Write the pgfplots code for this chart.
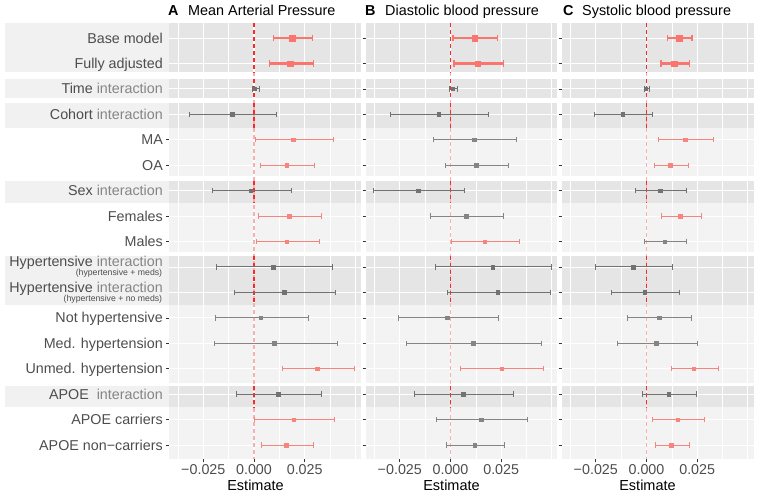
\documentclass[border=0pt]{standalone}
\usepackage{fontspec}
\setmainfont{Liberation Sans}
\usepackage{pgfplots}
\usepackage{pgfplotstable}
\pgfplotsset{compat=1.18}

\definecolor{bgd}{HTML}{E5E5E5}
\definecolor{bglt}{HTML}{F3F3F3}
\definecolor{band}{HTML}{F1F1F1}
\definecolor{rd}{HTML}{F8766D}
\definecolor{lrd}{HTML}{F6857E}
\definecolor{gy}{HTML}{727272}
\definecolor{lgy}{HTML}{858585}
\definecolor{txt}{HTML}{4D4D4D}
\definecolor{itx}{HTML}{858585}
\definecolor{zred}{HTML}{F42C2C}
\definecolor{zpink}{HTML}{F6B0B0}
\definecolor{tk}{HTML}{333333}

\def\xmn{-0.04191}
\def\xmx{0.05276}
\def\ymn{0.4104}
\def\ymx{17.549}
\def\xlab{-0.04487}
\def\xsub{-0.04521}
\def\xband{-0.12278}

% ---------- Panel A ----------
\pgfplotstableread{
y est lo hi
1 0.0189 0.0095 0.0290
2 0.0179 0.0076 0.0293
}\Abig
\pgfplotstableread{
y est lo hi
3 0.0002 -0.0008 0.0026
4 -0.0107 -0.0319 0.0109
7 -0.0016 -0.0206 0.0186
10 0.0095 -0.0184 0.0385
11 0.0148 -0.0097 0.0401
15 0.0120 -0.0087 0.0332
}\Agy
\pgfplotstableread{
y est lo hi
5 0.0194 0.0007 0.0392
6 0.0161 0.0030 0.0296
8 0.0173 0.0021 0.0331
9 0.0161 0.0013 0.0321
14 0.0313 0.0141 0.0494
16 0.0196 0.0003 0.0396
17 0.0160 0.0035 0.0293
}\Alr
\pgfplotstableread{
y est lo hi
12 0.0033 -0.0192 0.0270
13 0.0100 -0.0197 0.0411
}\Alg
% ---------- Panel B ----------
\pgfplotstableread{
y est lo hi
1 0.0120 0.0012 0.0233
2 0.0135 0.0017 0.0262
}\Bbig
\pgfplotstableread{
y est lo hi
3 0.0010 -0.0005 0.0033
4 -0.0058 -0.0297 0.0187
7 -0.0158 -0.0380 0.0070
10 0.0208 -0.0073 0.0498
11 0.0233 -0.0017 0.0492
15 0.0063 -0.0178 0.0313
}\Bgy
\pgfplotstableread{
y est lo hi
9 0.0168 0.0003 0.0338
14 0.0252 0.0050 0.0458
}\Blr
\pgfplotstableread{
y est lo hi
5 0.0117 -0.0085 0.0325
6 0.0127 -0.0023 0.0285
8 0.0077 -0.0100 0.0262
12 -0.0017 -0.0257 0.0235
13 0.0112 -0.0218 0.0447
16 0.0152 -0.0067 0.0380
17 0.0120 -0.0018 0.0267
}\Blg
% ---------- Panel C ----------
\pgfplotstableread{
y est lo hi
1 0.0162 0.0105 0.0225
2 0.0137 0.0072 0.0213
}\Cbig
\pgfplotstableread{
y est lo hi
3 -0.0003 -0.0012 0.0017
4 -0.0118 -0.0255 0.0028
7 0.0068 -0.0052 0.0197
10 -0.0067 -0.0252 0.0128
11 -0.0008 -0.0173 0.0162
15 0.0110 -0.0018 0.0248
}\Cgy
\pgfplotstableread{
y est lo hi
5 0.0190 0.0060 0.0330
6 0.0117 0.0037 0.0207
8 0.0167 0.0072 0.0270
14 0.0233 0.0125 0.0353
16 0.0153 0.0028 0.0287
17 0.0123 0.0042 0.0213
}\Clr
\pgfplotstableread{
y est lo hi
9 0.0090 -0.0008 0.0197
12 0.0062 -0.0093 0.0222
13 0.0048 -0.0143 0.0250
}\Clg

\newcommand\fs{\fontsize{14.3}{16}\selectfont}

\pgfplotsset{
  panel/.style={
    set layers, clip=false,
    scale only axis, width=192pt, height=436pt,
    xmin=\xmn, xmax=\xmx, ymin=\ymn, ymax=\ymx, y dir=reverse,
    axis line style={draw=none},
    xtick={-0.025,0,0.025}, xticklabels={−0.025,0.000,0.025},
    scaled x ticks=false,
    ytick={1,...,17}, yticklabels={},
    tick align=outside, xtick pos=bottom, ytick pos=left,
    major tick length=3pt,
    tick style={color=tk, line width=0.6pt},
    xticklabel style={font=\fs, text=txt, inner sep=0pt, anchor=north, yshift=-2pt},
    anchor=south west,
  },
  ebase/.style={only marks, mark=square*,
    error bars/x dir=both, error bars/x explicit, error bars/error mark=|},
  bigpt/.style={ebase, color=rd, mark size=2.7pt,
    error bars/error bar style={line width=2.3pt},
    error bars/error mark options={line width=1.3pt, mark size=3.4pt}},
  smpt/.style={ebase, color=#1, mark size=1.8pt,
    error bars/error bar style={line width=1.05pt},
    error bars/error mark options={line width=1pt, mark size=2.7pt}},
}
\tikzset{
  lab/.style={anchor=base east, inner sep=0pt, yshift=-5pt, font=\fs, text=txt},
  hlab/.style={anchor=base east, inner sep=0pt, yshift=0.3pt, font=\fs, text=txt},
  slab/.style={anchor=base east, inner sep=0pt, yshift=-8.8pt, font=\fontsize{8.7}{9}\selectfont, text=txt},
  onbg/.style={on layer=axis background},
}

\newcommand\eb[2]{\addplot[#1] table[x=est,y=y,x error plus expr=\thisrow{hi}-\thisrow{est},x error minus expr=\thisrow{est}-\thisrow{lo}]{#2};}

\newcommand\vg[2]{\draw[onbg,white,line width=#2] (axis cs:#1,\ymn) -- (axis cs:#1,\ymx);}
\newcommand\hg[1]{\draw[onbg,white,line width=0.9pt] (axis cs:\xmn,#1) -- (axis cs:\xmx,#1);}
\newcommand\gap[2]{\fill[onbg,white] (axis cs:\xmn,#1) rectangle (axis cs:\xmx,#2);}
\newcommand\bandr[2]{\fill[onbg,band] (axis cs:\xband,#1) rectangle (axis cs:\xmn,#2);}

\newcommand\panelbg{%
    \fill[onbg,bgd] (axis cs:\xmn,\ymn) rectangle (axis cs:\xmx,\ymx);
    \fill[onbg,bglt] (axis cs:\xmn,4.52) rectangle (axis cs:\xmx,6.5);
    \fill[onbg,bglt] (axis cs:\xmn,7.5) rectangle (axis cs:\xmx,9.5);
    \fill[onbg,bglt] (axis cs:\xmn,11.5) rectangle (axis cs:\xmx,14.6);
    \fill[onbg,bglt] (axis cs:\xmn,15.52) rectangle (axis cs:\xmx,\ymx);
    \vg{-0.0375}{0.5pt}\vg{-0.0125}{0.5pt}\vg{0.0125}{0.5pt}\vg{0.0375}{0.5pt}
    \vg{-0.025}{1.1pt}\vg{0}{1.1pt}\vg{0.025}{1.1pt}\vg{0.05}{1.1pt}
    \hg{1}\hg{2}\hg{3}\hg{4}\hg{5}\hg{6}\hg{7}\hg{8}\hg{9}\hg{10}\hg{11}\hg{12}\hg{13}\hg{14}\hg{15}\hg{16}\hg{17}
    \gap{2.34}{2.62}\gap{3.36}{3.54}\gap{6.42}{6.62}\gap{9.42}{9.58}\gap{14.56}{14.66}
}

\newcommand\zeroline{%
  \draw[zpink, line width=1.2pt, dash pattern=on 4pt off 3pt] (axis cs:0,\ymn) -- (axis cs:0,\ymx);
  \draw[zred, line width=1.2pt, dash pattern=on 4pt off 3pt] (axis cs:0,\ymn) -- (axis cs:0,2.34);
  \draw[zred, line width=1.2pt, dash pattern=on 4pt off 3pt] (axis cs:0,2.62) -- (axis cs:0,3.36);
  \draw[zred, line width=1.2pt, dash pattern=on 4pt off 3pt] (axis cs:0,3.54) -- (axis cs:0,4.52);
  \draw[zred, line width=1.2pt, dash pattern=on 4pt off 3pt] (axis cs:0,6.62) -- (axis cs:0,7.5);
  \draw[zred, line width=1.2pt, dash pattern=on 4pt off 3pt] (axis cs:0,9.58) -- (axis cs:0,11.5);
  \draw[zred, line width=1.2pt, dash pattern=on 4pt off 3pt] (axis cs:0,14.66) -- (axis cs:0,15.52);
}

\begin{document}
\begin{tikzpicture}

% ---------------- A ----------------
\begin{axis}[panel, at={(169pt,-459pt)}]
  \panelbg
  \bandr{\ymn}{2.34}\bandr{2.62}{3.36}\bandr{3.54}{4.52}\bandr{6.62}{7.5}\bandr{9.58}{11.5}\bandr{14.66}{15.52}
  \node[lab] at (axis cs:\xlab,1) {Base model};
  \node[lab] at (axis cs:\xlab,2) {Fully adjusted};
  \node[lab] at (axis cs:\xlab,3) {Time \textcolor{itx}{interaction}};
  \node[lab] at (axis cs:\xlab,4) {Cohort \textcolor{itx}{interaction}};
  \node[lab] at (axis cs:\xlab,5) {MA};
  \node[lab] at (axis cs:\xlab,6) {OA};
  \node[lab] at (axis cs:\xlab,7) {Sex \textcolor{itx}{interaction}};
  \node[lab] at (axis cs:\xlab,8) {Females};
  \node[lab] at (axis cs:\xlab,9) {Males};
  \node[hlab] at (axis cs:\xlab,10) {Hypertensive \textcolor{itx}{interaction}};
  \node[slab] at (axis cs:\xsub,10) {(hypertensive + meds)};
  \node[hlab] at (axis cs:\xlab,11) {Hypertensive \textcolor{itx}{interaction}};
  \node[slab] at (axis cs:\xsub,11) {(hypertensive + no meds)};
  \node[lab] at (axis cs:\xlab,12) {Not hypertensive};
  \node[lab] at (axis cs:\xlab,13) {Med. hypertension};
  \node[lab] at (axis cs:\xlab,14) {Unmed. hypertension};
  \node[lab] at (axis cs:\xlab,15) {APOE\ \ \textcolor{itx}{interaction}};
  \node[lab] at (axis cs:\xlab,16) {APOE carriers};
  \node[lab] at (axis cs:\xlab,17) {APOE non−carriers};
  \zeroline
  \eb{bigpt}{\Abig}
  \eb{smpt=gy}{\Agy}
  \eb{smpt=lrd}{\Alr}
  \eb{smpt=lgy}{\Alg}
\end{axis}

% ---------------- B ----------------
\begin{axis}[panel, at={(365.5pt,-459pt)}]
  \panelbg
  \zeroline
  \eb{bigpt}{\Bbig}
  \eb{smpt=gy}{\Bgy}
  \eb{smpt=lrd}{\Blr}
  \eb{smpt=lgy}{\Blg}
\end{axis}

% ---------------- C ----------------
\begin{axis}[panel, at={(561.5pt,-459pt)}]
  \panelbg
  \zeroline
  \eb{bigpt}{\Cbig}
  \eb{smpt=gy}{\Cgy}
  \eb{smpt=lrd}{\Clr}
  \eb{smpt=lgy}{\Clg}
\end{axis}

% titles
\begin{scope}[every node/.style={inner sep=0pt, anchor=base west, font=\fontsize{14.4}{16}\selectfont}]
  \node at (168pt,-15.5pt) {\bfseries A};
  \node at (188pt,-15.5pt) {Mean Arterial Pressure};
  \node at (365pt,-15.5pt) {\bfseries B};
  \node at (385pt,-15.5pt) {Diastolic blood pressure};
  \node at (563pt,-15.5pt) {\bfseries C};
  \node at (582pt,-15.5pt) {Systolic blood pressure};
\end{scope}
\begin{scope}[every node/.style={inner sep=0pt, anchor=base, font=\fontsize{14.5}{16}\selectfont}]
  \node at (255.5pt,-490.5pt) {Estimate};
  \node at (451.5pt,-490.5pt) {Estimate};
  \node at (647.5pt,-490.5pt) {Estimate};
\end{scope}
\path (0,0) rectangle (761pt,-498pt);
\end{tikzpicture}
\end{document}
